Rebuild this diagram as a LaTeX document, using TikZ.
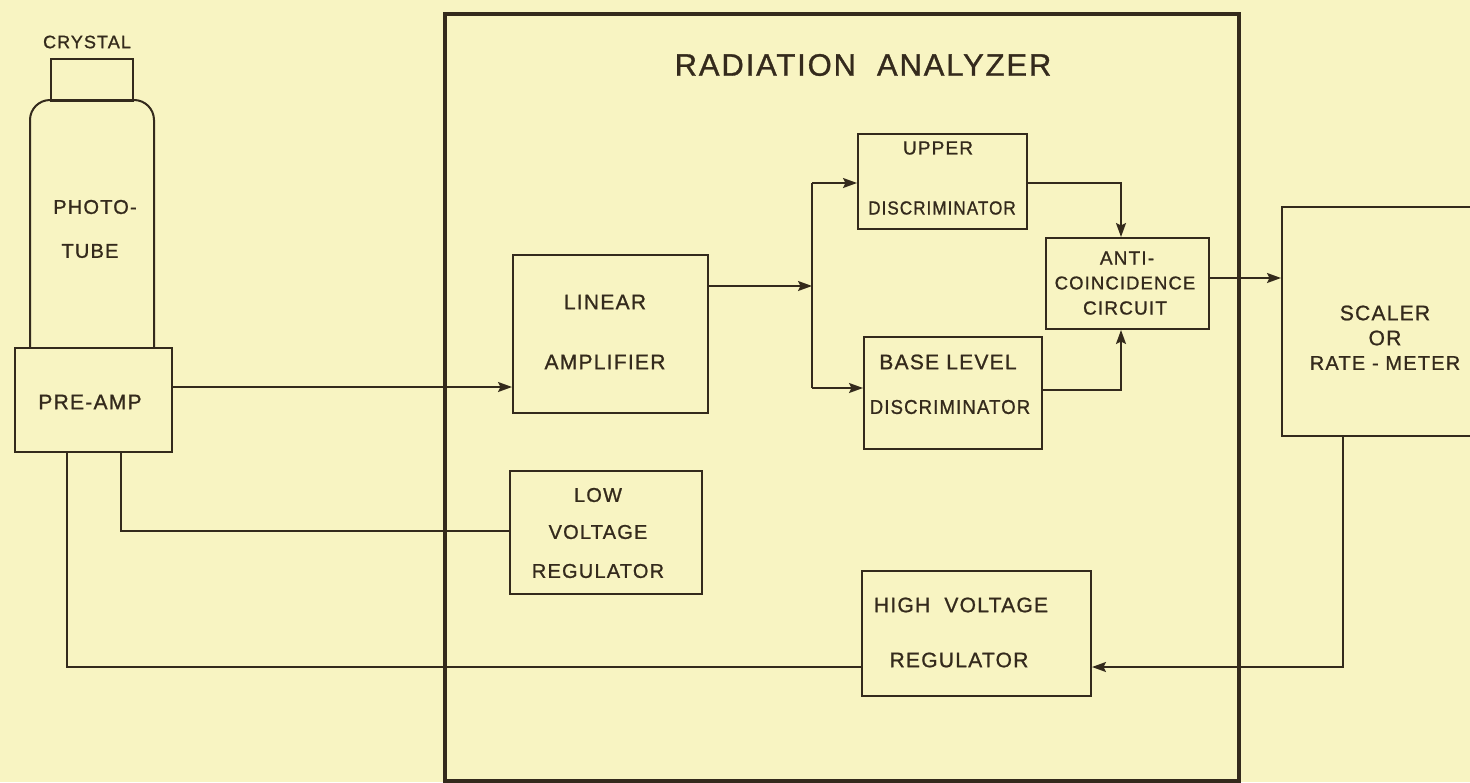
\documentclass[tikz,border=0pt]{standalone}
\usepackage{fontspec}
\usepackage{graphicx}
\usetikzlibrary{arrows.meta,calc}
\newfontfamily\lett{Liberation Sans}[LetterSpace=6,FakeBold=1]
\definecolor{paper}{RGB}{248,244,194}
\definecolor{ink}{RGB}{52,42,28}
\tikzset{
  box/.style={draw=ink, line width=2pt, inner sep=0pt, anchor=north west},
  wire/.style={draw=ink, line width=1.9pt},
  arr/.style={draw=ink, line width=1.9pt, -{Stealth[length=14pt,width=10pt,inset=2.5pt]}},
  lbl/.style={text=ink, inner sep=0pt, font=\lett\fontsize{#1}{#1}\selectfont},
  lbl/.default=20
}
\begin{document}
\begin{tikzpicture}[x=1pt,y=-1pt]
\fill[paper] (0,0) rectangle (1470,782);
\useasboundingbox (0,0) rectangle (1470,782);
\clip (0,0) rectangle (1470,782);

% detector
\node[box, minimum width=82pt, minimum height=42pt] (crystal) at (50,58) {};
\draw[wire, line width=2pt, rounded corners=20pt] (30,347) -- (30,100) -- (154,100) -- (154,347);
\node[box, minimum width=157pt, minimum height=104pt] (preamp) at (14,347) {};
\node[lbl=18] (tcrystal) at (87,42) {CRYSTAL};
\node[lbl=20] (tphoto) at (95,207) {PHOTO-};
\node[lbl=20] (ttube) at (90,251) {TUBE};
\node[lbl=21] (tpreamp) at (90,402) {PRE-AMP};

% analyzer frame
\node[box, line width=4pt, minimum width=794pt, minimum height=767pt] (ra) at (443,12) {};
\node[lbl=31] (tra) at (863,65) {RADIATION\ \ ANALYZER};

% blocks
\node[box, minimum width=195pt, minimum height=158pt] (la) at (512,254) {};
\node[lbl=21] (tla1) at (605,302) {LINEAR};
\node[lbl=21] (tla2) at (605,362) {AMPLIFIER};

\node[box, minimum width=169pt, minimum height=95pt] (upper) at (857,133) {};
\node[lbl=19] (tup1) at (938,148) {UPPER};
\node[lbl=19] (tup2) at (942,208) {\scalebox{0.9}[1]{DISCRIMINATOR}};

\node[box, minimum width=178pt, minimum height=112pt] (base) at (863,336) {};
\node[lbl=21] (tba1) at (948,362) {BASE LEVEL};
\node[lbl=20] (tba2) at (950,407) {\scalebox{0.93}[1]{DISCRIMINATOR}};

\node[box, minimum width=163pt, minimum height=91pt] (anti) at (1045,237) {};
\node[lbl=19] (tan1) at (1127,258) {ANTI-};
\node[lbl=18.5] (tan2) at (1125,283) {COINCIDENCE};
\node[lbl=19] (tan3) at (1125,308) {CIRCUIT};

\node[box, minimum width=209pt, minimum height=229pt] (scaler) at (1281,206) {};
\node[lbl=21] (tsc1) at (1385,313) {SCALER};
\node[lbl=21] (tsc2) at (1385,338) {OR};
\node[lbl=20] (tsc3) at (1385,363) {RATE - METER};

\node[box, minimum width=192pt, minimum height=123pt] (lvr) at (509,470) {};
\node[lbl=20] (tlv1) at (598,495) {LOW};
\node[lbl=20] (tlv2) at (598,532) {VOLTAGE};
\node[lbl=20] (tlv3) at (598,571) {REGULATOR};

\node[box, minimum width=229pt, minimum height=125pt] (hvr) at (861,570) {};
\node[lbl=21] (thv1) at (961,605) {HIGH\ \ VOLTAGE};
\node[lbl=21] (thv2) at (959,660) {REGULATOR};

% connectors
\coordinate (pao) at (171,387);
\draw[arr] (pao) -- (pao -| la.west);

\coordinate (jn) at (812,286);
\coordinate (jt) at (812,183);
\coordinate (jb) at (812,388);
\draw[arr] (la.east |- jn) -- (jn);
\draw[wire] (jt) -- (jb);
\draw[arr] (jt) -- (jt -| upper.west);
\draw[arr] (jb) -- (jb -| base.west);

\coordinate (ut) at (1121,183);
\draw[arr] (upper.east |- ut) -- (ut) -- (ut |- anti.north);
\coordinate (bt) at (1121,390);
\draw[arr] (base.east |- bt) -- (bt) -- (bt |- anti.south);

\coordinate (ao) at (1208,278);
\draw[arr] (ao -| anti.east) -- (ao -| scaler.west);

\coordinate (sf) at (1343,667);
\draw[arr] (sf |- scaler.south) -- (sf) -- (sf -| hvr.east);

\coordinate (pl) at (121,531);
\draw[wire] (pl |- preamp.south) -- (pl) -- (pl -| lvr.west);
\coordinate (ph) at (67,667);
\draw[wire] (ph |- preamp.south) -- (ph) -- (ph -| hvr.west);
\end{tikzpicture}
\end{document}
